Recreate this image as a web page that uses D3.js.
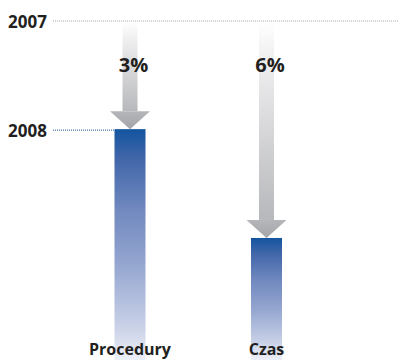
<!DOCTYPE html>
<html><head><meta charset="utf-8">
<script src="https://cdn.jsdelivr.net/npm/d3@7"></script>
<style>body{margin:0;background:#fff}svg{display:block}</style>
</head><body>
<script>
const categories = ["Procedury", "Czas"];
const yearLabels = ["2007", "2008"];
const base2007 = 100;
const values2008 = [68.1, 36.0];
const changeLabels = ["3%", "6%"];

const W = 399, H = 360;
const svg = d3.select("body").append("svg").attr("width", W).attr("height", H);
const font = "'Open Sans', sans-serif";

const x = d3.scalePoint().domain(categories).range([130, 266.5]);
const y = d3.scaleLinear().domain([0, base2007]).range([360, 21]);
const barW = 31, shaftW = 15, headW = 40, headH = 18;

const defs = svg.append("defs");
const bg = defs.append("linearGradient").attr("id", "barGrad").attr("x1", 0).attr("y1", 0).attr("x2", 0).attr("y2", 1);
[[0, "#12559f"], [0.12, "#3f65a8"], [0.35, "#7189bf"], [0.6, "#97a8d1"], [0.85, "#c8d0e7"], [1, "#eef0f8"]]
  .forEach(([o, c]) => bg.append("stop").attr("offset", o).attr("stop-color", c));
const sg = defs.append("linearGradient").attr("id", "shaftGrad").attr("x1", 0).attr("y1", 0).attr("x2", 0).attr("y2", 1);
[[0, "#ffffff"], [0.15, "#f2f2f3"], [1, "#b7b8bb"]]
  .forEach(([o, c]) => sg.append("stop").attr("offset", o).attr("stop-color", c));
const hg = defs.append("linearGradient").attr("id", "headGrad").attr("x1", 0).attr("y1", 0).attr("x2", 0).attr("y2", 1);
[[0, "#b5b6b9"], [1, "#a4a5a9"]]
  .forEach(([o, c]) => hg.append("stop").attr("offset", o).attr("stop-color", c));

// reference lines
svg.append("line").attr("x1", 53).attr("x2", W).attr("y1", y(base2007)).attr("y2", y(base2007))
  .attr("stroke", "#aaaaaa").attr("stroke-width", 1).attr("stroke-dasharray", "1,1");
svg.append("line").attr("x1", 53).attr("x2", x(categories[0]) - barW / 2)
  .attr("y1", y(values2008[0]) + 1).attr("y2", y(values2008[0]) + 1)
  .attr("stroke", "#1a5aa0").attr("stroke-width", 1).attr("stroke-dasharray", "1,1");

// year labels
svg.append("text").attr("x", 8).attr("y", y(base2007) + 6.5).text(yearLabels[0])
  .attr("font-family", font).attr("font-weight", 700).attr("font-size", 17).attr("fill", "#231f20");
svg.append("text").attr("x", 8).attr("y", y(values2008[0]) + 7.5).text(yearLabels[1])
  .attr("font-family", font).attr("font-weight", 700).attr("font-size", 17).attr("fill", "#231f20");

// bars
svg.selectAll("rect.bar").data(categories).join("rect").attr("class", "bar")
  .attr("x", d => x(d) - barW / 2).attr("width", barW)
  .attr("y", (d, i) => y(values2008[i])).attr("height", (d, i) => y(0) - y(values2008[i]))
  .attr("fill", "url(#barGrad)");

// arrows
categories.forEach((c, i) => {
  const cx = x(c), tip = y(values2008[i]), top = y(base2007) + 1;
  const headTop = tip - headH;
  svg.append("rect").attr("x", cx - shaftW / 2).attr("width", shaftW)
    .attr("y", top).attr("height", headTop - top).attr("fill", "url(#shaftGrad)");
  svg.append("path")
    .attr("d", `M${cx - headW / 2},${headTop}L${cx + headW / 2},${headTop}L${cx},${tip}Z`)
    .attr("fill", "url(#headGrad)");
  svg.append("text").attr("x", cx + 3.5).attr("y", 72).attr("text-anchor", "middle").text(changeLabels[i])
    .attr("font-family", font).attr("font-weight", 700).attr("font-size", 20).attr("fill", "#231f20");
});

// category labels
svg.selectAll("text.cat").data(categories).join("text").attr("class", "cat")
  .attr("x", d => x(d)).attr("y", 355).attr("text-anchor", "middle").text(d => d)
  .attr("font-family", font).attr("font-weight", 700).attr("font-size", 16).attr("fill", "#231f20");
</script>
</body></html>
